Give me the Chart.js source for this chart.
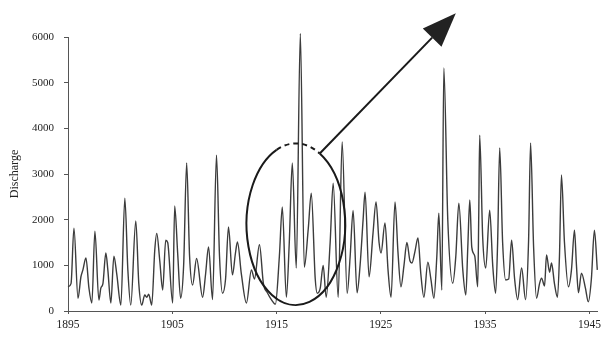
<!DOCTYPE html>
<html>
<head>
<meta charset="utf-8">
<script src="https://cdn.jsdelivr.net/npm/chart.js@4"></script>
<style>
  html, body { margin: 0; padding: 0; background: #fff; }
  #wrap { width: 605px; height: 340px; position: relative; }
</style>
</head>
<body>
<div id="wrap"><canvas id="flowChart"></canvas></div>
<script>
// time in decimal years
const years = [
  1895.00, 1895.29, 1895.57, 1895.96, 1896.24, 1896.43, 1896.72, 1897.01, 1897.29, 1897.58,
  1897.96, 1898.15, 1898.35, 1898.63, 1898.82, 1899.11, 1899.40, 1899.68, 1900.07, 1900.45,
  1900.74, 1901.02, 1901.50, 1901.79, 1902.07, 1902.36, 1902.55, 1902.74, 1903.03, 1903.32,
  1903.51, 1903.80, 1904.08, 1904.37, 1904.56, 1905.04, 1905.23, 1905.52, 1905.80, 1906.09,
  1906.38, 1906.66, 1906.95, 1907.33, 1907.91, 1908.19, 1908.48, 1908.86, 1909.24, 1909.53,
  1909.82, 1910.11, 1910.39, 1910.77, 1911.06, 1911.25, 1911.63, 1912.11, 1912.59, 1912.88,
  1913.36, 1913.74, 1914.12, 1914.50, 1914.89, 1915.27, 1915.55, 1915.94, 1916.22, 1916.51,
  1916.89, 1917.28, 1917.66, 1918.04, 1918.33, 1918.71, 1918.90, 1919.19, 1919.47, 1919.76,
  1920.14, 1920.43, 1920.91, 1921.29, 1921.77, 1922.06, 1922.34, 1922.72, 1923.01, 1923.30,
  1923.49, 1923.87, 1924.25, 1924.54, 1924.83, 1925.02, 1925.40, 1925.69, 1925.98, 1926.36,
  1926.64, 1926.93, 1927.22, 1927.50, 1927.79, 1927.98, 1928.27, 1928.56, 1928.84, 1929.13,
  1929.51, 1929.80, 1930.09, 1930.37, 1930.56, 1930.85, 1931.04, 1931.42, 1931.90, 1932.19,
  1932.48, 1932.86, 1933.15, 1933.34, 1933.53, 1933.72, 1934.01, 1934.29, 1934.39, 1934.48,
  1934.77, 1935.06, 1935.44, 1935.73, 1936.01, 1936.20, 1936.40, 1936.68, 1936.97, 1937.26,
  1937.54, 1937.83, 1938.12, 1938.50, 1938.88, 1939.17, 1939.36, 1939.65, 1939.93, 1940.22,
  1940.41, 1940.70, 1940.89, 1941.18, 1941.37, 1941.65, 1941.94, 1942.13, 1942.32, 1942.61,
  1942.99, 1943.28, 1943.57, 1943.76, 1943.95, 1944.24, 1944.62, 1944.90, 1945.19, 1945.48,
  1945.76
];

// discharge at those times
const discharge = [
  530, 600, 1815, 280, 750, 900, 1160, 500, 175, 1750,
  240, 500, 600, 1270, 900, 175, 1200, 800, 130, 2470,
  900, 130, 1970, 600, 130, 350, 300, 370, 130, 1330,
  1700, 1100, 460, 1550, 1500, 175, 2300, 1250, 280, 1000,
  3240, 1200, 570, 1150, 300, 800, 1400, 250, 3410, 1200,
  390, 700, 1840, 790, 1270, 1510, 800, 175, 900, 700,
  1450, 600, 400, 250, 150, 1200, 2280, 300, 1500, 3240,
  940, 6080, 960, 1800, 2580, 700, 390, 500, 1000, 300,
  1500, 2800, 300, 3700, 390, 1200, 2200, 400, 1000, 2000,
  2600, 750, 1700, 2390, 1500, 1270, 1930, 900, 300, 2390,
  1300, 530, 1000, 1500, 1100, 1050, 1300, 1600, 800, 300,
  1070, 700, 280, 1200, 2140, 460, 5320, 2000, 610, 1200,
  2360, 900, 350, 1400, 2430, 1400, 1200, 530, 2100, 3850,
  1600, 940, 2210, 1000, 390, 1500, 3570, 1500, 680, 700,
  1550, 700, 250, 940, 250, 1550, 3680, 1400, 280, 600,
  720, 550, 1230, 850, 1050, 600, 300, 1200, 2980, 1500,
  530, 900, 1770, 1000, 400, 830, 500, 200, 700, 1770,
  900
];

const xTicks = [1895, 1905, 1915, 1925, 1935, 1945];
const yTicks = [0, 1000, 2000, 3000, 4000, 5000, 6000];

const serif = "'Liberation Serif', 'DejaVu Serif', serif";

// circle round the 1917 flood and the arrow pointing away from it
const floodMark = {
  id: "floodMark",
  afterDraw(chart) {
    const { ctx, scales: { x, y } } = chart;
    const cx = x.getPixelForValue(1916.85);
    const cy = y.getPixelForValue(1900);
    const rx = cx - x.getPixelForValue(1912.12);
    const ry = y.getPixelForValue(130) - cy;
    const deg = Math.PI / 180;

    ctx.save();
    ctx.strokeStyle = "#1a1a1a";
    ctx.lineWidth = 2;

    // solid part
    ctx.beginPath();
    ctx.ellipse(cx, cy, rx, ry, 0, -61 * deg, 247 * deg);
    ctx.stroke();

    // dashed top
    ctx.setLineDash([5, 4]);
    ctx.beginPath();
    ctx.ellipse(cx, cy, rx, ry, 0, -113 * deg, -61 * deg);
    ctx.stroke();
    ctx.setLineDash([]);

    // arrow shaft
    const sx = cx + rx * Math.cos(-61 * deg);
    const sy = cy + ry * Math.sin(-61 * deg);
    const tipX = x.getPixelForValue(1932.19);
    const tipY = y.getPixelForValue(6520);
    const ang = Math.atan2(tipY - sy, tipX - sx);
    const headLen = 34, headHalf = 13;
    const bx = tipX - headLen * Math.cos(ang);
    const by = tipY - headLen * Math.sin(ang);

    ctx.beginPath();
    ctx.moveTo(sx, sy);
    ctx.lineTo(bx, by);
    ctx.stroke();

    ctx.fillStyle = "#222";
    ctx.beginPath();
    ctx.moveTo(tipX, tipY);
    ctx.lineTo(bx + headHalf * Math.sin(ang), by - headHalf * Math.cos(ang));
    ctx.lineTo(bx - headHalf * Math.sin(ang), by + headHalf * Math.cos(ang));
    ctx.closePath();
    ctx.fill();
    ctx.restore();
  }
};

document.addEventListener("DOMContentLoaded", () => {
  const ctx = document.getElementById("flowChart").getContext("2d");
  new Chart(ctx, {
    type: "line",
    data: {
      datasets: [{
        label: "Discharge",
        data: years.map((t, i) => ({ x: t, y: discharge[i] })),
        borderColor: "#3c3c3c",
        borderWidth: 1.4,
        pointRadius: 0,
        fill: false,
        clip: false,
        cubicInterpolationMode: "monotone"
      }]
    },
    options: {
      responsive: true,
      maintainAspectRatio: false,
      animation: false,
      layout: { padding: { top: 37, right: 7, left: 0, bottom: 0 } },
      plugins: { legend: { display: false }, tooltip: { enabled: false } },
      scales: {
        x: {
          type: "linear",
          min: 1895,
          max: 1945.8,
          afterBuildTicks: s => { s.ticks = xTicks.map(v => ({ value: v })); },
          afterFit: s => { s.height = 29; },
          border: { color: "#555", width: 1 },
          grid: { drawOnChartArea: false, drawTicks: true, tickLength: 3, color: "#555" },
          ticks: {
            color: "#222",
            padding: 4,
            maxRotation: 0,
            font: { family: serif, size: 11.5 },
            callback: v => String(v)
          }
        },
        y: {
          min: 0,
          max: 6000,
          afterBuildTicks: s => { s.ticks = yTicks.map(v => ({ value: v })); },
          afterFit: s => { s.width = 68; },
          border: { color: "#555", width: 1 },
          grid: { drawOnChartArea: false, drawTicks: true, tickLength: 4, color: "#555" },
          title: {
            display: true,
            text: "Discharge",
            color: "#222",
            padding: { top: 8, bottom: 0 },
            font: { family: serif, size: 12 }
          },
          ticks: {
            color: "#222",
            padding: 10,
            font: { family: serif, size: 11 },
            callback: v => String(v)
          }
        }
      }
    },
    plugins: [floodMark]
  });
});
</script>
</body>
</html>
